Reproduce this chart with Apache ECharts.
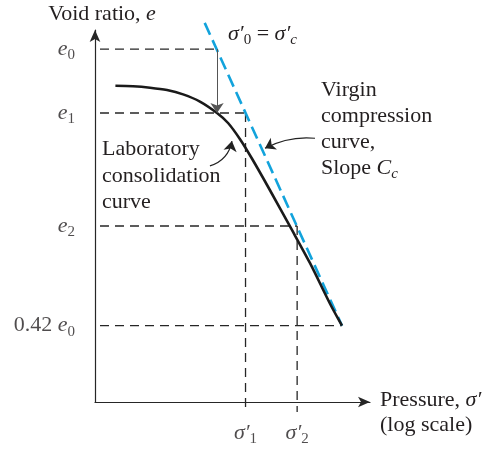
<!DOCTYPE html>
<html><head><meta charset="utf-8">
<script src="https://cdn.jsdelivr.net/npm/echarts@6/dist/echarts.min.js"></script>
<style>html,body{margin:0;padding:0;background:#fff}#c{width:487px;height:449px}</style>
</head><body><div id="c"></div>
<script>
// Laboratory consolidation curve: void ratio against effective pressure
const labPressure = [16, 24, 35.5, 52.5, 76, 112, 166, 214, 282, 372, 562, 891, 1413, 2239, 2950];
const labVoid = [0.923, 0.922, 0.919, 0.914, 0.905, 0.890, 0.866, 0.845, 0.811, 0.770, 0.704, 0.628, 0.551, 0.466, 0.42];
// Virgin compression line (straight on the log scale)
const virginPressure = [125, 2950];
const virginVoid = [1.055, 0.42];
// Void-ratio levels e0, e1, e2 and 0.42 e0
const voidLevels = [1.0, 0.866, 0.629, 0.42];
const voidLabels = ['{i|e}{s|0}', '{i|e}{s|1}', '{i|e}{s|2}', '0.42 {i|e}{s|0}'];
// Preconsolidation pressure and the pressures marked on the axis
const sigmaC = 166;
const stressMarks = [320, 1050];
const stressLabels = ['{i|σ′}{s|1}', '{i|σ′}{s|2}'];

const FONT = 'Liberation Serif';
const INK = '#231f20';
const BLUE = '#12a3dc';
const X_MIN = 10, X_MAX = 5620, Y_MIN = 0.26, Y_MAX = 1.04;

const rich = {
  i: { fontFamily: FONT, fontStyle: 'italic', fontSize: 22, color: INK },
  s: { fontFamily: FONT, fontSize: 15, color: INK, padding: [12, 0, 0, 0] },
  si: { fontFamily: FONT, fontStyle: 'italic', fontSize: 15, color: INK, padding: [12, 0, 0, 0] }
};

const chart = echarts.init(document.getElementById('c'), null, { renderer: 'canvas' });

// dashed guide lines: each level runs from just left of the axis to the point it marks
const levelEnds = [sigmaC, stressMarks[0], stressMarks[1], virginPressure[1]];
const leftStub = X_MIN / Math.pow(10, 0.1);
const belowStub = Y_MIN - 0.021;
const guideStyle = { color: '#262626', width: 1.3, type: [9, 6] };
const guides = [];
voidLevels.forEach((lv, k) => {
  guides.push({
    type: 'line', data: [[leftStub, lv], [levelEnds[k], lv]],
    symbol: 'none', clip: false, silent: true, z: 1, lineStyle: guideStyle
  });
});
stressMarks.forEach((s, k) => {
  guides.push({
    type: 'line', data: [[s, voidLevels[k + 1]], [s, belowStub]],
    symbol: 'none', clip: false, silent: true, z: 1, lineStyle: guideStyle
  });
});

const option = {
  animation: false,
  backgroundColor: '#fff',
  textStyle: { fontFamily: FONT, color: INK },
  grid: { left: 95, top: 30, right: 117, bottom: 47 },
  xAxis: {
    type: 'log', logBase: 10, min: X_MIN, max: X_MAX,
    axisLine: { onZero: false, symbol: ['none', 'arrow'], symbolSize: [8, 12], lineStyle: { color: '#262626', width: 1.2 } },
    axisTick: { show: false }, axisLabel: { show: false }, splitLine: { show: false },
    name: 'Pressure, {i|σ′}\n(log scale)', nameLocation: 'end', nameGap: 10,
    nameTextStyle: { fontFamily: FONT, fontSize: 22, color: INK, align: 'left', verticalAlign: 'middle', lineHeight: 25, padding: [22, 0, 0, 0], rich: rich }
  },
  yAxis: {
    type: 'value', min: Y_MIN, max: Y_MAX,
    axisLine: { onZero: false, symbol: ['none', 'arrow'], symbolSize: [8, 12], lineStyle: { color: '#262626', width: 1.2 } },
    axisTick: { show: false }, axisLabel: { show: false }, splitLine: { show: false },
    name: 'Void ratio, {i|e}', nameLocation: 'end', nameGap: 5,
    nameTextStyle: { fontFamily: FONT, fontSize: 22, color: INK, align: 'center', verticalAlign: 'bottom', padding: [0, 0, 0, 14], rich: rich }
  },
  graphic: [
    { type: 'text', left: 228, top: 23, style: { text: '{i|σ′}{s|0} = {i|σ′}{si|c}', font: '22px ' + FONT, fill: INK, rich: rich } },
    { type: 'text', left: 321, top: 77, style: { text: 'Virgin\ncompression\ncurve,\nSlope {i|C}{si|c}', font: '22px ' + FONT, fill: INK, lineHeight: 26, rich: rich } },
    { type: 'text', left: 102, top: 136, style: { text: 'Laboratory\nconsolidation\ncurve', font: '22px ' + FONT, fill: INK, lineHeight: 26.5 } }
  ],
  series: guides.concat([
    {
      name: 'Virgin compression curve', type: 'line',
      data: virginPressure.map((p, k) => [p, virginVoid[k]]),
      symbol: 'none', clip: false, z: 3,
      lineStyle: { color: BLUE, width: 2.6, type: [13, 6] }
    },
    {
      name: 'Laboratory consolidation curve', type: 'line',
      data: labPressure.map((p, k) => [p, labVoid[k]]),
      symbol: 'none', smooth: 0.3, clip: false, z: 4,
      lineStyle: { color: '#1a1a1a', width: 2.6 }
    },
    {
      // e0 dropping to e1 at the preconsolidation pressure
      type: 'lines', coordinateSystem: 'cartesian2d', z: 5, clip: false,
      symbol: ['none', 'arrow'], symbolSize: 10,
      lineStyle: { color: '#555', width: 1, opacity: 1 },
      data: [{ coords: [[sigmaC, voidLevels[0]], [sigmaC, voidLevels[1]]] }]
    },
    {
      // callout arrows for the two curve labels
      type: 'lines', coordinateSystem: 'cartesian2d', z: 5, clip: false,
      symbol: ['none', 'arrow'], symbolSize: 10,
      lineStyle: { color: '#222', width: 1.2, opacity: 1 },
      data: [
        { coords: [[1585, 0.813], [501, 0.792]], lineStyle: { curveness: -0.15 } },
        { coords: [[141, 0.755], [234, 0.807]], lineStyle: { curveness: -0.3 } }
      ]
    },
    {
      type: 'scatter', symbolSize: 0, clip: false, silent: true,
      data: voidLevels.map(v => [X_MIN, v]),
      label: {
        show: true, position: 'left', distance: 20,
        formatter: p => voidLabels[p.dataIndex],
        fontFamily: FONT, fontSize: 22, color: INK, rich: rich
      }
    },
    {
      type: 'scatter', symbolSize: 0, clip: false, silent: true,
      data: stressMarks.map(s => [s, Y_MIN]),
      label: {
        show: true, position: 'bottom', distance: 18,
        formatter: p => stressLabels[p.dataIndex],
        fontFamily: FONT, fontSize: 22, color: INK, rich: rich
      }
    }
  ])
};
chart.setOption(option);
</script>
</body></html>
